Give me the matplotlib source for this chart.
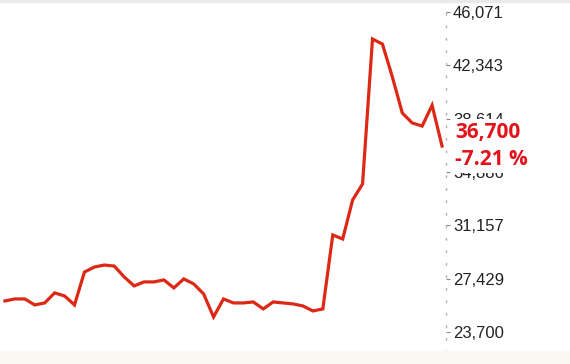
"""Price line chart with right-side axis and last-value callout."""

import matplotlib
matplotlib.use('Agg')
import matplotlib.pyplot as plt  # pylint: disable=wrong-import-position
import matplotlib.patches as mpatches  # pylint: disable=wrong-import-position
from matplotlib.ticker import FuncFormatter  # pylint: disable=wrong-import-position

# Daily closing prices
PRICES = [
    25870, 26010, 26010, 25590, 25730, 26430, 26220, 25590, 27890, 28240,
    28380, 28310, 27550, 26920, 27200, 27200, 27340, 26780, 27410, 27060,
    26360, 24750, 26010, 25730, 25730, 25800, 25310, 25800, 25730, 25660,
    25520, 25170, 25310, 30480, 30200, 32930, 34050, 44180, 43830, 41530,
    39010, 38310, 38100, 39550, 36700,
]
Y_TICKS = [23700, 27429, 31157, 34886, 38614, 42343, 46071]
LAST_LABEL = "36,700"
CHANGE_LABEL = "-7.21 %"

LINE_COLOR = '#dc2814'
TEXT_RED = '#e3121b'


def main():
    fig = plt.figure(figsize=(5.70, 3.64), dpi=100)
    fig.patch.set_facecolor('white')

    # faint frame like the source widget
    fig.patches.append(mpatches.Rectangle((0, 0), 1, 13 / 364, transform=fig.transFigure,
                                          color='#fbf9f1', zorder=0))
    fig.patches.append(mpatches.Rectangle((0, 1 - 2 / 364), 1, 2 / 364, transform=fig.transFigure,
                                          color='#e6ebe6', zorder=0))

    ax = fig.add_axes([0, 12 / 364, 446 / 570, 352 / 364])
    ax.set_facecolor('none')

    x = list(range(len(PRICES)))
    ax.plot(x, PRICES, color=LINE_COLOR, linewidth=2.3, solid_joinstyle='miter', zorder=3)

    ax.set_xlim(-0.5, len(PRICES) - 1 + 0.4)
    ax.set_ylim(22300, 46910)

    for side in ('left', 'top', 'bottom'):
        ax.spines[side].set_visible(False)
    ax.spines['right'].set_color('#b0b0b0')
    ax.spines['right'].set_linestyle((0, (1, 8)))
    ax.spines['right'].set_linewidth(1)

    ax.set_xticks([])
    ax.yaxis.tick_right()
    ax.set_yticks(Y_TICKS)
    ax.yaxis.set_major_formatter(FuncFormatter(lambda v, _: f"{int(round(v)):,}"))
    ax.tick_params(axis='y', direction='out', length=3, width=0.8, color='#888888',
                   pad=2, labelsize=12, labelcolor='#222222')
    for lbl in ax.get_yticklabels():
        lbl.set_fontfamily('Liberation Sans')

    # last value + change callout, white box hides the tick labels behind it
    ax.annotate(LAST_LABEL + "\n" + CHANGE_LABEL, xy=(1.0, PRICES[-1]),
                xycoords=('axes fraction', 'data'), xytext=(6.5, 0),
                textcoords='offset points', ha='left', va='center',
                fontsize=15, fontweight='bold', color=TEXT_RED,
                fontfamily='Open Sans', linespacing=1.42, zorder=5,
                bbox={'boxstyle': 'square,pad=0.12', 'facecolor': 'white',
                      'edgecolor': 'none'},
                annotation_clip=False)

    fig.savefig('out.png', dpi=100)
    plt.close(fig)


if __name__ == "__main__":
    main()
